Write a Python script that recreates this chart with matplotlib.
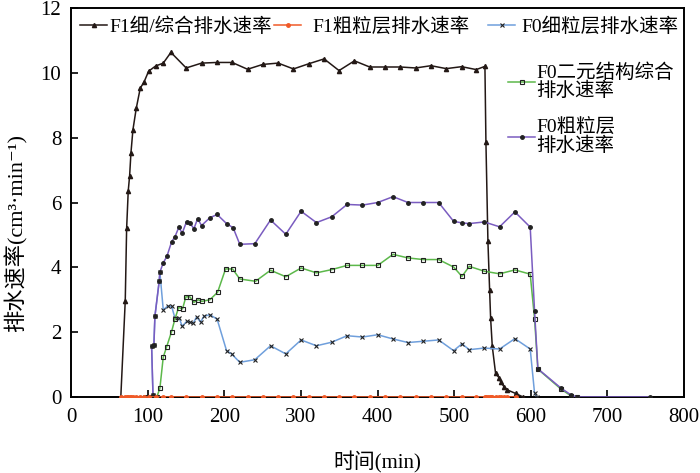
import numpy as np
import matplotlib.pyplot as plt
from matplotlib.legend import Legend

# polices : serif latin + repli CJK
fam = ['Liberation Serif', 'Noto Sans CJK SC', 'DejaVu Sans']
plt.rcParams['font.family'] = fam

# F1 细/综合排水速率
f1_t = [65, 70.8, 72.6, 74.7, 76.5, 78.2, 80.8, 85.2, 90.4, 95.2, 101.3, 110.4,
        120.4, 130.4, 150.3, 170.4, 190.4, 210.3, 230.4, 250.3, 270.3, 290.3,
        310.3, 330.3, 349.8, 369.9, 389.8, 409.8, 429.8, 449.8, 469.8, 489.8,
        509.8, 528.9, 540.2, 541.5, 544.1, 546.3, 547.6, 549.8, 554.1, 558.4,
        560.6, 565.0, 569.3, 580.2, 590]
f1_v = [0, 2.97, 5.2, 6.36, 6.82, 7.52, 8.24, 8.91, 9.53, 9.71, 10.05, 10.21,
        10.30, 10.63, 10.15, 10.30, 10.32, 10.32, 10.11, 10.26, 10.30, 10.12,
        10.28, 10.43, 10.07, 10.37, 10.18, 10.18, 10.18, 10.15, 10.22, 10.13,
        10.19, 10.10, 10.20, 7.87, 4.81, 3.31, 2.44, 1.56, 0.73, 0.60,
        0.47, 0.32, 0.22, 0.11, 0.0]

# F1 粗粒层排水速率 (nul partout)
f1c_t = f1_t[:-1]
f1c_v = [0.0] * len(f1c_t)

# F0 细粒层
b_t = [96, 100, 104, 107, 105.2, 108.2, 109.5, 115.1, 116, 120.4, 126, 131.3,
       135.6, 141.2, 145.1, 150.8, 155.1, 159.5, 163.9, 169.1, 173.4, 181.2,
       190.7, 203, 209.5, 220.3, 239.9, 260.4, 280.3, 300.3, 320.3, 340.3,
       360.3, 380.3, 400.3, 420.3, 439.8, 459.8, 479.8, 499.3, 510.2, 519.8,
       539.4, 559.3, 579.3, 599.3, 605, 608]
b_v = [0, 0, 0, 0.05, 1.58, 1.61, 2.49, 3.57, 3.85, 2.69, 2.80, 2.80,
       2.44, 2.44, 2.18, 2.33, 2.31, 2.28, 2.47, 2.31, 2.49, 2.54,
       2.40, 1.43, 1.33, 1.07, 1.15, 1.58, 1.33, 1.76, 1.58, 1.69,
       1.89, 1.85, 1.92, 1.79, 1.68, 1.72, 1.76, 1.43, 1.64, 1.46,
       1.51, 1.48, 1.80, 1.48, 0.11, 0]

# F0 二元结构综合
g_t = [100, 106, 112, 116, 120.4, 124.7, 131.3, 135.6, 140.4, 145.6, 149.9,
       155.1, 160.4, 166, 170.8, 181.2, 191.3, 201.7, 210.8, 220.3, 240.8,
       260.4, 280.3, 300.3, 320.3, 340.3, 360.3, 380.3, 400.3, 420.3, 439.8,
       459.8, 479.8, 499.3, 510.2, 519.8, 539.4, 559.3, 579.3, 599.3, 605,
       609.3, 639.7, 652.8, 660]
g_v = [0, 0, 0, 0.27, 1.23, 1.54, 2.02, 2.40, 2.76, 2.72, 3.09,
       3.09, 2.92, 3.00, 2.95, 3.00, 3.23, 3.95, 3.95, 3.64, 3.57,
       3.91, 3.71, 3.98, 3.83, 3.93, 4.06, 4.06, 4.06, 4.40, 4.29,
       4.24, 4.24, 4.01, 3.72, 4.03, 3.88, 3.80, 3.92, 3.79, 2.41,
       0.86, 0.24, 0.03, 0]

# F0 粗粒层
p_t = [96, 100, 104, 107, 105.2, 108.2, 109.5, 115.1, 116, 120.4, 125.2,
       131.3, 135.6, 140.8, 145.1, 150.8, 155.1, 160.4, 165.2, 170.4, 181.2,
       190.7, 203, 211.6, 220.3, 239.9, 260.4, 280.3, 300.3, 320.3, 340.3,
       360.3, 380.3, 400.3, 420.3, 439.8, 459.8, 479.8, 499.3, 510.2, 519.8,
       539.4, 559.3, 579.3, 599.3, 605, 609.3, 639.7, 652.8, 660, 755]
p_v = [0, 0, 0, 0.05, 1.58, 1.61, 2.49, 3.57, 3.85, 4.14, 4.34,
       4.79, 4.94, 5.24, 5.05, 5.41, 5.37, 5.19, 5.50, 5.29, 5.53,
       5.63, 5.35, 5.22, 4.71, 4.73, 5.46, 5.02, 5.73, 5.38, 5.56,
       5.94, 5.92, 6.00, 6.18, 6.00, 6.00, 6.00, 5.42, 5.37, 5.35,
       5.40, 5.25, 5.71, 5.24, 2.64, 0.87, 0.27, 0.06, 0, 0]

labels = ['F1细/综合排水速率', 'F1粗粒层排水速率', 'F0细粒层排水速率',
          'F0二元结构综合\n排水速率', 'F0粗粒层\n排水速率']

W, H = 700, 473
fig = plt.figure(figsize=(W / 100, H / 100), dpi=100)
ax = fig.add_axes([71 / W, 1 - 397 / H, 613 / W, 389 / H])

l1, = ax.plot(f1_t, f1_v, color='#231815', lw=1.1, marker='^', ms=3,
              mfc='#231815', mec='#231815', zorder=3)
l2, = ax.plot(f1c_t, f1c_v, color='#f05a28', lw=1.1, marker='o', ms=2.5,
              mfc='#f05a28', mec='#f05a28', zorder=6)
l3, = ax.plot(b_t, b_v, color='#6f9fdc', lw=1.1, marker='x', ms=3,
              mec='#222222', mew=0.8, zorder=4)
l4, = ax.plot(g_t, g_v, color='#5cb84a', lw=1.1, marker='s', ms=3.5,
              mfc='none', mec='#222222', mew=0.8, zorder=4)
l5, = ax.plot(p_t, p_v, color='#7a5cc0', lw=1.1, marker='o', ms=2.5,
              mfc='#222222', mec='#222222', zorder=5)

ax.set_xlim(0, 800)
ax.set_ylim(0, 12)
ax.set_xticks(np.arange(0, 801, 100))
ax.set_yticks(np.arange(0, 13, 2))
ax.tick_params(direction='in', length=5, width=1.2, labelsize=15)
ax.tick_params(axis='x', pad=8)
ax.tick_params(axis='y', pad=7)
for s in ax.spines.values():
    s.set_linewidth(1.4)

ax.set_xlabel('时间(min)', fontsize=15)
ax.xaxis.set_label_coords(0.5, (397 - 462) / 389)
ax.xaxis.label.set_va('center')
ax.set_ylabel('排水速率(cm³·min⁻¹)', fontsize=16)
ax.yaxis.set_label_coords((16 - 71) / 613, (397 - 233) / 389)
ax.yaxis.label.set_va('center')

# légendes, une par entrée : (x poignée, x texte, y centre) en pixels
fs = 14
em = fs * 100 / 72
hl = 27
slots = [(80, 109, 27), (274, 312, 27), (488, 521, 27), (508, 535, 82), (508, 535, 137)]
for h, lab, (xh, xt, yc) in zip([l1, l2, l3, l4, l5], labels, slots):
    lg = Legend(ax, [h], [lab], loc='center left',
                bbox_to_anchor=(xh / W, 1 - yc / H), bbox_transform=fig.transFigure,
                frameon=False, fontsize=fs, handlelength=hl / em,
                handletextpad=max(xt - xh - hl, 1) / em, borderpad=0, borderaxespad=0)
    for t in lg.get_texts():
        t.set_linespacing(1.0)
    ax.add_artist(lg)

plt.savefig('out.png', dpi=100)
